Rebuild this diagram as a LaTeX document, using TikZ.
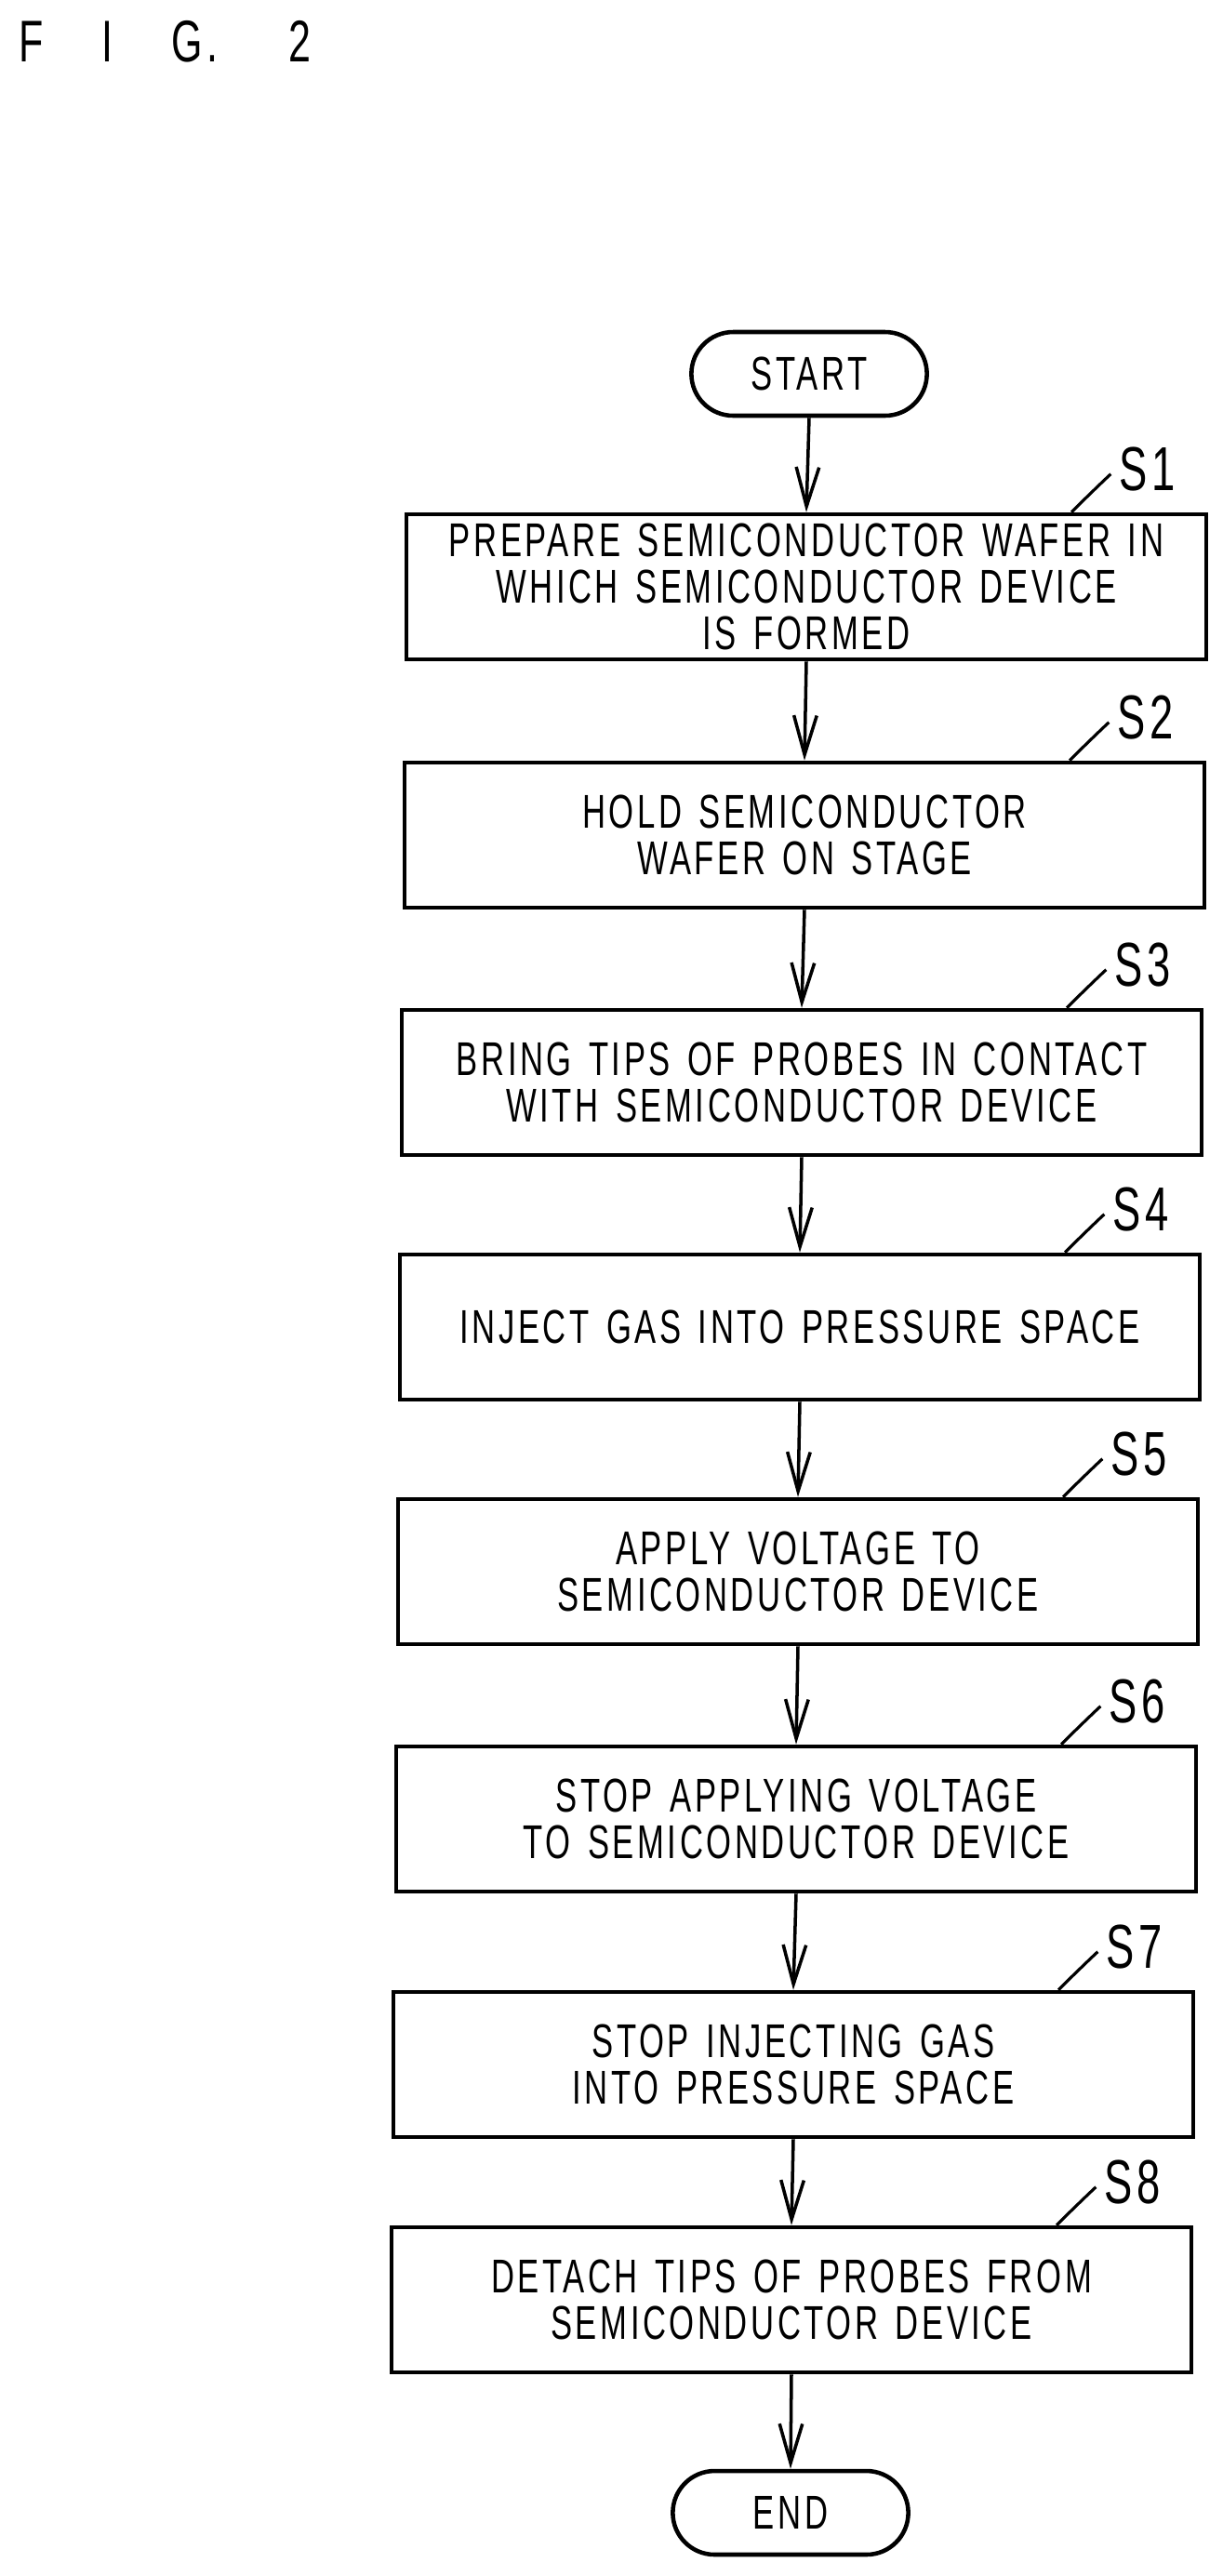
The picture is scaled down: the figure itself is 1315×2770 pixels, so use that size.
\documentclass[tikz,border=0pt]{standalone}
\usepackage{fontspec}
\setmainfont[FakeStretch=0.68,LetterSpace=7,WordSpace=1.4]{Liberation Sans}
\usetikzlibrary{arrows.meta,shapes.misc}
\begin{document}
\begin{tikzpicture}[x=0.02cm,y=-0.02cm,
  stepbox/.style={draw,line width=2.6pt,minimum width=17.2cm,minimum height=3.12cm,align=center,font=\fontsize{29}{28.5}\selectfont,inner sep=0pt},
  term/.style={draw,line width=2.6pt,rounded rectangle,minimum width=5.3cm,minimum height=1.8cm,font=\fontsize{29}{35}\selectfont},
  flow/.style={line width=2pt,-{Straight Barb[length=24pt,width=14pt,line width=2pt]}},
  lead/.style={line width=1.8pt},
  slabel/.style={font=\fontsize{38}{40}\selectfont}]
\useasboundingbox (0,0) rectangle (1315,2770);
\node[anchor=west,font=\fontsize{36}{40}\selectfont] (fig) at (14,45) {F\hspace{1em}I\hspace{1em}G.\hspace{1.2em}2};
\node[term] (start) at (870,402) {START};
\node[stepbox] (s1) at (867,631) {PREPARE SEMICONDUCTOR WAFER IN\\WHICH SEMICONDUCTOR DEVICE\\IS FORMED};
\node[stepbox] (s2) at (865,898) {HOLD SEMICONDUCTOR\\WAFER ON STAGE};
\node[stepbox] (s3) at (862,1164) {BRING TIPS OF PROBES IN CONTACT\\WITH SEMICONDUCTOR DEVICE};
\node[stepbox] (s4) at (860,1427) {INJECT GAS INTO PRESSURE SPACE};
\node[stepbox] (s5) at (858,1690) {APPLY VOLTAGE TO\\SEMICONDUCTOR DEVICE};
\node[stepbox] (s6) at (856,1956) {STOP APPLYING VOLTAGE\\TO SEMICONDUCTOR DEVICE};
\node[stepbox] (s7) at (853,2220) {STOP INJECTING GAS\\INTO PRESSURE SPACE};
\node[stepbox] (s8) at (851,2473) {DETACH TIPS OF PROBES FROM\\SEMICONDUCTOR DEVICE};
\node[term] (end) at (850,2702) {END};
\foreach \a/\b in {start/s1,s1/s2,s2/s3,s3/s4,s4/s5,s5/s6,s6/s7,s7/s8,s8/end}
  \draw[flow] (\a.south) -- (\b.north);
\foreach \s/\t in {s1/S1,s2/S2,s3/S3,s4/S4,s5/S5,s6/S6,s7/S7,s8/S8}{
  \node[slabel] (l\s) at ([xshift=-66*0.02cm,yshift=46*0.02cm]\s.north east) {\t};
  \draw[lead] ([xshift=-147*0.02cm]\s.north east) .. controls +(0,-0.6) and +(-0.5,0) .. ([xshift=-0.05cm,yshift=-0.1cm]l\s.west);
}
\end{tikzpicture}
\end{document}
